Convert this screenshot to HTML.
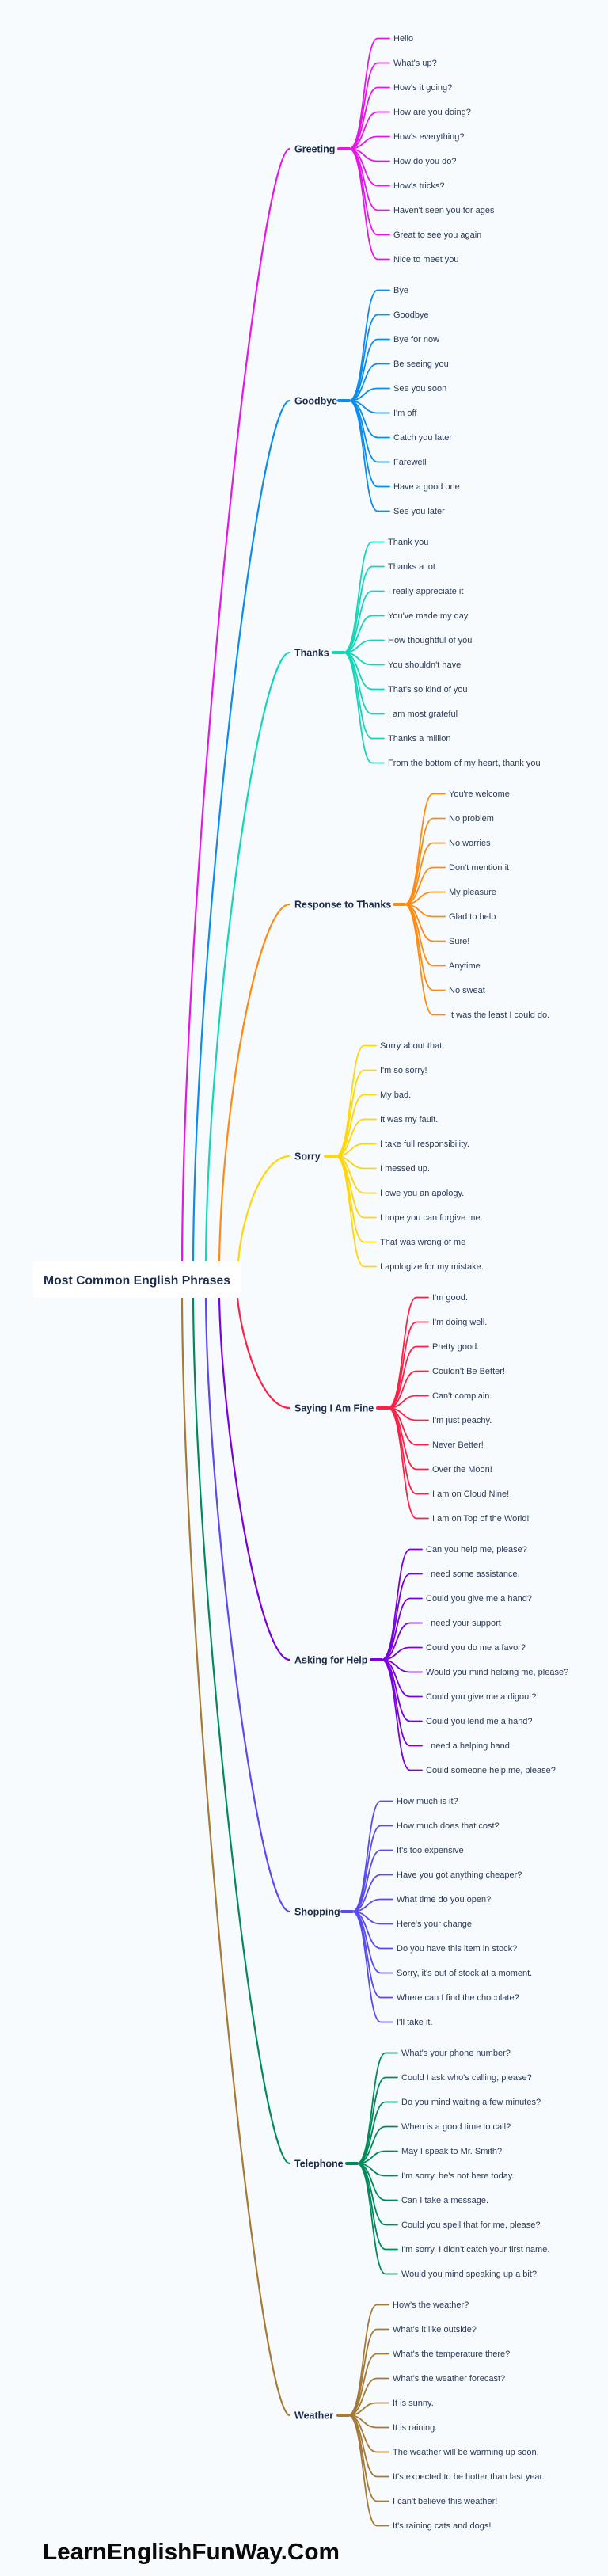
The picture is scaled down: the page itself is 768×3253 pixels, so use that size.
<!DOCTYPE html>
<html><head><meta charset="utf-8"><style>
html,body{margin:0;padding:0;background:#f7fbfd;}
svg{display:block;}
.l{font-family:"Liberation Sans",sans-serif;font-size:11px;fill:#2a3a58;}
.c{font-family:"Liberation Sans",sans-serif;font-size:12.5px;font-weight:bold;fill:#1c2b4a;}
</style></head><body>
<svg width="768" height="3253" viewBox="0 0 768 3253" xmlns="http://www.w3.org/2000/svg">
<defs>
<g id="fan" fill="none" stroke-width="1.8" stroke-linecap="round">
<path d="M-69 0H-56"/>
<path d="M-56 0C-36 0 -38 -139.5 -20 -139.5H-5"/>
<path d="M-56 0C-36 0 -38 -108.5 -20 -108.5H-5"/>
<path d="M-56 0C-36 0 -38 -77.5 -20 -77.5H-5"/>
<path d="M-56 0C-36 0 -38 -46.5 -20 -46.5H-5"/>
<path d="M-56 0C-36 0 -38 -15.5 -20 -15.5H-5"/>
<path d="M-56 0C-36 0 -38 15.5 -20 15.5H-5"/>
<path d="M-56 0C-36 0 -38 46.5 -20 46.5H-5"/>
<path d="M-56 0C-36 0 -38 77.5 -20 77.5H-5"/>
<path d="M-56 0C-36 0 -38 108.5 -20 108.5H-5"/>
<path d="M-56 0C-36 0 -38 139.5 -20 139.5H-5"/>
<path d="M-69 0H-56" stroke-width="4"/>
</g>
</defs>
<rect width="768" height="3253" fill="#f7fbfd"/>
<g fill="none" stroke-width="2.2">
<path d="M230 1593C232 1100 326 188 366 188" stroke="#e815e8"/>
<path d="M244 1593C246 1200 326 506 366 506" stroke="#0a8cf0"/>
<path d="M260 1593C262 1300 326 824 366 824" stroke="#12d6b8"/>
<path d="M277 1593C280 1400 326 1142 366 1142" stroke="#ff8a12"/>
<path d="M301 1593C305 1540 330 1460 366 1460" stroke="#ffd60a"/>
<path d="M300 1639C305 1690 330 1778 366 1778" stroke="#ff1f44"/>
<path d="M277 1639C280 1800 326 2096 366 2096" stroke="#7a00e0"/>
<path d="M260 1639C262 1900 326 2414 366 2414" stroke="#5a4af0"/>
<path d="M244 1639C246 2000 326 2732 366 2732" stroke="#008a5a"/>
<path d="M230 1639C232 2100 326 3050 366 3050" stroke="#a57a36"/>
</g>
<rect x="42" y="1593" width="262" height="46" fill="#fff"/>
<text x="55" y="1622" font-family="Liberation Sans,sans-serif" font-weight="bold" font-size="16" fill="#1c2b4a" textLength="236" lengthAdjust="spacingAndGlyphs">Most Common English Phrases</text>

<use href="#fan" x="497" y="188" stroke="#e815e8"/>
<use href="#fan" x="497" y="506" stroke="#0a8cf0"/>
<use href="#fan" x="490" y="824" stroke="#12d6b8"/>
<use href="#fan" x="567" y="1142" stroke="#ff8a12"/>
<use href="#fan" x="480" y="1460" stroke="#ffd60a"/>
<use href="#fan" x="546" y="1778" stroke="#ff1f44"/>
<use href="#fan" x="538" y="2096" stroke="#7a00e0"/>
<use href="#fan" x="501" y="2414" stroke="#5a4af0"/>
<use href="#fan" x="507" y="2732" stroke="#008a5a"/>
<use href="#fan" x="496" y="3050" stroke="#a57a36"/>

<text class="c" x="372" y="192.5">Greeting</text>
<text class="c" x="372" y="510.5">Goodbye</text>
<text class="c" x="372" y="828.5">Thanks</text>
<text class="c" x="372" y="1146.5">Response to Thanks</text>
<text class="c" x="372" y="1464.5">Sorry</text>
<text class="c" x="372" y="1782.5">Saying I Am Fine</text>
<text class="c" x="372" y="2100.5">Asking for Help</text>
<text class="c" x="372" y="2418.5">Shopping</text>
<text class="c" x="372" y="2736.5">Telephone</text>
<text class="c" x="372" y="3054.5">Weather</text>

<g class="l">
<text x="497" y="52">Hello</text><text x="497" y="83">What's up?</text><text x="497" y="114">How's it going?</text><text x="497" y="145">How are you doing?</text><text x="497" y="176">How's everything?</text><text x="497" y="207">How do you do?</text><text x="497" y="238">How's tricks?</text><text x="497" y="269">Haven't seen you for ages</text><text x="497" y="300">Great to see you again</text><text x="497" y="331">Nice to meet you</text>

<text x="497" y="370">Bye</text><text x="497" y="401">Goodbye</text><text x="497" y="432">Bye for now</text><text x="497" y="463">Be seeing you</text><text x="497" y="494">See you soon</text><text x="497" y="525">I'm off</text><text x="497" y="556">Catch you later</text><text x="497" y="587">Farewell</text><text x="497" y="618">Have a good one</text><text x="497" y="649">See you later</text>

<text x="490" y="688">Thank you</text><text x="490" y="719">Thanks a lot</text><text x="490" y="750">I really appreciate it</text><text x="490" y="781">You've made my day</text><text x="490" y="812">How thoughtful of you</text><text x="490" y="843">You shouldn't have</text><text x="490" y="874">That's so kind of you</text><text x="490" y="905">I am most grateful</text><text x="490" y="936">Thanks a million</text><text x="490" y="967">From the bottom of my heart, thank you</text>

<text x="567" y="1006">You're welcome</text><text x="567" y="1037">No problem</text><text x="567" y="1068">No worries</text><text x="567" y="1099">Don't mention it</text><text x="567" y="1130">My pleasure</text><text x="567" y="1161">Glad to help</text><text x="567" y="1192">Sure!</text><text x="567" y="1223">Anytime</text><text x="567" y="1254">No sweat</text><text x="567" y="1285">It was the least I could do.</text>

<text x="480" y="1324">Sorry about that.</text><text x="480" y="1355">I'm so sorry!</text><text x="480" y="1386">My bad.</text><text x="480" y="1417">It was my fault.</text><text x="480" y="1448">I take full responsibility.</text><text x="480" y="1479">I messed up.</text><text x="480" y="1510">I owe you an apology.</text><text x="480" y="1541">I hope you can forgive me.</text><text x="480" y="1572">That was wrong of me</text><text x="480" y="1603">I apologize for my mistake.</text>

<text x="546" y="1642">I'm good.</text><text x="546" y="1673">I'm doing well.</text><text x="546" y="1704">Pretty good.</text><text x="546" y="1735">Couldn't Be Better!</text><text x="546" y="1766">Can't complain.</text><text x="546" y="1797">I'm just peachy.</text><text x="546" y="1828">Never Better!</text><text x="546" y="1859">Over the Moon!</text><text x="546" y="1890">I am on Cloud Nine!</text><text x="546" y="1921">I am on Top of the World!</text>

<text x="538" y="1960">Can you help me, please?</text><text x="538" y="1991">I need some assistance.</text><text x="538" y="2022">Could you give me a hand?</text><text x="538" y="2053">I need your support</text><text x="538" y="2084">Could you do me a favor?</text><text x="538" y="2115">Would you mind helping me, please?</text><text x="538" y="2146">Could you give me a digout?</text><text x="538" y="2177">Could you lend me a hand?</text><text x="538" y="2208">I need a helping hand</text><text x="538" y="2239">Could someone help me, please?</text>

<text x="501" y="2278">How much is it?</text><text x="501" y="2309">How much does that cost?</text><text x="501" y="2340">It's too expensive</text><text x="501" y="2371">Have you got anything cheaper?</text><text x="501" y="2402">What time do you open?</text><text x="501" y="2433">Here's your change</text><text x="501" y="2464">Do you have this item in stock?</text><text x="501" y="2495">Sorry, it's out of stock at a moment.</text><text x="501" y="2526">Where can I find the chocolate?</text><text x="501" y="2557">I'll take it.</text>

<text x="507" y="2596">What's your phone number?</text><text x="507" y="2627">Could I ask who's calling, please?</text><text x="507" y="2658">Do you mind waiting a few minutes?</text><text x="507" y="2689">When is a good time to call?</text><text x="507" y="2720">May I speak to Mr. Smith?</text><text x="507" y="2751">I'm sorry, he's not here today.</text><text x="507" y="2782">Can I take a message.</text><text x="507" y="2813">Could you spell that for me, please?</text><text x="507" y="2844">I'm sorry, I didn't catch your first name.</text><text x="507" y="2875">Would you mind speaking up a bit?</text>

<text x="496" y="2914">How's the weather?</text><text x="496" y="2945">What's it like outside?</text><text x="496" y="2976">What's the temperature there?</text><text x="496" y="3007">What's the weather forecast?</text><text x="496" y="3038">It is sunny.</text><text x="496" y="3069">It is raining.</text><text x="496" y="3100">The weather will be warming up soon.</text><text x="496" y="3131">It's expected to be hotter than last year.</text><text x="496" y="3162">I can't believe this weather!</text><text x="496" y="3193">It's raining cats and dogs!</text>
</g>

<text x="54" y="3232" font-family="Liberation Sans,sans-serif" font-weight="bold" font-size="29" fill="#0a0a0a" textLength="375" lengthAdjust="spacingAndGlyphs">LearnEnglishFunWay.Com</text>
</svg>
</body></html>
